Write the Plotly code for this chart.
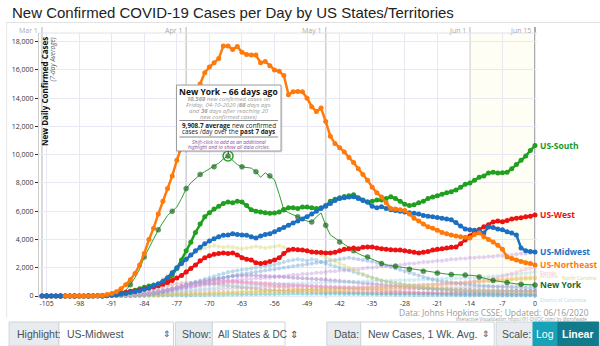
import plotly.graph_objects as go

W, H = 600, 346
L, R, T, B = 37, 63, 33, 48
PW, PH = W - L - R, H - T - B


def px(x):
    return (x - L) / PW


def py(y):
    return 1 - (y - T) / PH


# ---------------- data ----------------
days = list(range(-106, 1))

northeast = [None, None, None, None, None, 0, 0, 0, 1, 2,
             4, 8, 15, 40, 100, 180, 300, 520, 800, 1150,
             1600, 2200, 3000, 4000, 4800, 5800, 6700, 7600, 8500, 9600,
             10600, 11500, 12500, 14000, 15000, 15800, 16200, 16500, 16800, 17700,
             17700, 17450, 17650, 17250, 17100, 17050, 17050, 16500, 16600, 16300,
             16000, 15900, 15600, 14250, 14450, 14470, 14450, 14000, 13400, 13050,
             13300, 12350, 11300, 10800, 10500, 10200, 9800, 9450, 9000, 8600,
             8200, 7700, 7300, 7000, 6600, 6200, 6150, 6100, 6050, 5800,
             5500, 5300, 5100, 4900, 4800, 4650, 4500, 4400, 4320, 4250,
             4200, 4150, 4100, 4350, 4460, 4200, 4000, 3830, 3600, 3300,
             2760, 2650, 2550, 2450, 2350, 2300, 2200]

south = [0, 0, 0, 0, 0, 0, 0, 0, 0, 2,
         3, 6, 12, 25, 45, 80, 130, 200, 270, 340,
         400, 520, 620, 700, 780, 850, 950, 1150, 1450, 1950,
         2550, 3200, 3800, 4500, 5100, 5600, 5900, 6150, 6350, 6550,
         6650, 6600, 6700, 6650, 6400, 6100, 6000, 5950, 5900, 5850,
         5880, 5950, 6100, 6250, 6250, 6200, 6300, 6300, 6250, 6200,
         6250, 6400, 6700, 6850, 6950, 7050, 7100, 7160, 6950, 6800,
         6660, 6700, 6800, 6800, 6900, 7020, 6900, 6700, 6500, 6400,
         6450, 6600, 6700, 6900, 7000, 7100, 7200, 7300, 7370, 7500,
         7700, 7900, 8000, 8200, 8400, 8500, 8700, 8750, 8700, 8720,
         8750, 9000, 9300, 9600, 9900, 10300, 10650]

midwest = [0, 0, 0, 0, 0, 0, 0, 0, 0, 0,
           0, 1, 3, 8, 20, 45, 80, 130, 180, 240,
           300, 380, 470, 570, 700, 850, 1050, 1300, 1650, 2000,
           2300, 2600, 2900, 3200, 3450, 3700, 3900, 4050, 4200, 4300,
           4320, 4400, 4350, 4320, 4300, 4200, 4110, 4250, 4350, 4400,
           4540, 4700, 4850, 5000, 5170, 5300, 5450, 5600, 5800, 6000,
           6200, 6350, 6550, 6750, 6900, 6950, 7000, 7020, 6900, 6750,
           6660, 6350, 6240, 6310, 6200, 6100, 6050, 6000, 5950, 5900,
           5850, 5800, 5700, 5650, 5600, 5550, 5500, 5450, 5390, 5200,
           4950, 4750, 4680, 4650, 4600, 4460, 4890, 4850, 4750, 4680,
           4550, 4450, 4320, 3400, 3200, 3150, 3120]

west = [0, 0, 0, 0, 0, 0, 0, 0, 3, 6,
        10, 15, 25, 40, 60, 90, 130, 180, 250, 320,
        350, 420, 490, 560, 640, 730, 830, 950, 1100, 1280,
        1450, 1700, 1950, 2200, 2500, 2700, 2850, 2950, 3000, 3050,
        3000, 3050, 2900, 2700, 2600, 2550, 2350, 2300, 2350, 2450,
        2550, 2700, 3000, 3260, 3300, 3280, 3250, 3200, 3120, 3100,
        3080, 3050, 3050, 3100, 3200, 3300, 3350, 3400, 3350, 3450,
        3470, 3470, 3400, 3350, 3300, 3280, 3260, 3250, 3200, 3150,
        3100, 3050, 3100, 3150, 3250, 3300, 3350, 3400, 3450, 3470,
        3700, 3970, 4250, 4540, 4700, 4900, 5050, 5240, 5300, 5250,
        5350, 5450, 5500, 5530, 5600, 5650, 5740]

new_york = [0, 0, 0, 0, 0, 0, 0, 0, 0, 0,
            0, 1, 3, 8, 20, 50, 100, 200, 400, 800,
            1300, 1900, 2760, 3400, 4000, 4680, 5200, 5700, 6000, 6300,
            6900, 7600, 8000, 8300, 8600, 8800, 9000, 9150, 9400, 9700,
            9909, 9600, 9300, 9140, 9100, 9050, 8800, 8400, 8720, 8500,
            8220, 7200, 6100, 5900, 5750, 5600, 5400, 5300, 5240, 5600,
            5880, 5000, 4320, 4100, 3830, 3600, 3400, 3200, 3000, 2850,
            2760, 2600, 2450, 2300, 2200, 2150, 2100, 2000, 1950, 1900,
            1850, 1800, 1750, 1700, 1650, 1620, 1580, 1550, 1520, 1500,
            1490, 1480, 1490, 1450, 1350, 1250, 1150, 1100, 1050, 990,
            950, 900, 860, 830, 800, 790, 780]

# faint state series (days -91 .. 0)
new_jersey = [0, 10, 30, 60, 110, 180, 280, 400, 560, 750,
              950, 1200, 1450, 1750, 2050, 2350, 2650, 2900, 3100, 3250,
              3400, 3500, 3550, 3500, 3450, 3500, 3450, 3400, 3350, 3400,
              3450, 3500, 3450, 3400, 3450, 3500, 3550, 3450, 3350, 3300,
              3300, 3250, 3200, 3150, 3050, 2900, 2750, 2600, 2450, 2300,
              2150, 2000, 1850, 1700, 1550, 1400, 1300, 1200, 1100, 1000,
              950, 900, 850, 800, 750, 700, 650, 620, 590, 560,
              530, 500, 480, 460, 440, 420, 400, 390, 380, 370,
              360, 350, 340, 330, 320, 310, 300, 290, 280, 270, 260, 250]
massachusetts = [0, 5, 10, 20, 30, 50, 80, 110, 150, 200,
                 260, 330, 410, 500, 600, 700, 800, 900, 1000, 1100,
                 1200, 1300, 1400, 1500, 1600, 1700, 1750, 1800, 1850, 1900,
                 1950, 2000, 2050, 2100, 2150, 2200, 2300, 2400, 2500, 2550,
                 2600, 2550, 2500, 2600, 2550, 2400, 2300, 2200, 2100, 2000,
                 1900, 1800, 1700, 1600, 1500, 1400, 1300, 1200, 1100, 1000,
                 950, 900, 850, 800, 750, 700, 650, 600, 560, 520,
                 480, 450, 420, 390, 360, 340, 320, 300, 280, 260,
                 250, 240, 230, 220, 210, 200, 190, 180, 170, 160, 150, 140]
california = [10, 20, 40, 60, 90, 120, 160, 200, 250, 300,
              350, 400, 450, 500, 550, 600, 650, 700, 750, 800,
              850, 900, 950, 1000, 1050, 1100, 1100, 1150, 1150, 1200,
              1200, 1250, 1250, 1300, 1300, 1350, 1400, 1400, 1450, 1500,
              1500, 1550, 1550, 1600, 1650, 1650, 1700, 1750, 1750, 1800,
              1800, 1850, 1900, 1900, 1950, 2000, 2000, 2050, 2100, 2100,
              2150, 2200, 2200, 2250, 2300, 2300, 2350, 2400, 2400, 2450,
              2500, 2500, 2550, 2600, 2600, 2650, 2650, 2700, 2700, 2750,
              2750, 2800, 2800, 2850, 2850, 2900, 2900, 2950, 3000, 3000, 3050, 3100]
florida = [5, 10, 20, 30, 50, 70, 100, 140, 190, 250,
           320, 400, 480, 560, 640, 720, 800, 860, 920, 980,
           1020, 1050, 1080, 1100, 1100, 1080, 1050, 1020, 1000, 980,
           960, 940, 920, 900, 880, 860, 840, 820, 800, 780,
           760, 740, 720, 700, 700, 690, 680, 670, 660, 650,
           650, 640, 640, 650, 660, 670, 680, 690, 700, 710,
           720, 730, 740, 750, 760, 770, 780, 790, 800, 820,
           840, 860, 880, 900, 920, 950, 980, 1010, 1050, 1100,
           1150, 1200, 1250, 1300, 1400, 1500, 1600, 1700, 1800, 1900, 1950, 2000]
illinois = [0, 5, 10, 20, 35, 50, 70, 100, 130, 170,
            220, 280, 350, 420, 500, 580, 660, 740, 820, 900,
            980, 1060, 1140, 1220, 1300, 1380, 1450, 1500, 1550, 1600,
            1650, 1700, 1750, 1800, 1850, 1900, 1950, 2000, 2050, 2100,
            2150, 2200, 2250, 2300, 2350, 2400, 2450, 2500, 2550, 2600,
            2650, 2700, 2650, 2600, 2550, 2500, 2450, 2350, 2250, 2150,
            2050, 1950, 1850, 1750, 1650, 1550, 1450, 1350, 1250, 1150,
            1100, 1050, 1000, 950, 900, 870, 840, 810, 780, 750,
            720, 700, 680, 660, 640, 620, 600, 590, 580, 570, 560, 550]
pennsylvania = [0, 5, 10, 20, 40, 60, 90, 130, 180, 240,
                300, 370, 450, 530, 620, 710, 800, 880, 950, 1020,
                1080, 1140, 1200, 1250, 1300, 1350, 1400, 1420, 1440, 1450,
                1460, 1450, 1440, 1420, 1400, 1380, 1360, 1340, 1320, 1300,
                1280, 1260, 1240, 1220, 1200, 1180, 1150, 1120, 1090, 1060,
                1030, 1000, 970, 940, 910, 880, 850, 820, 790, 760,
                730, 700, 670, 640, 610, 580, 560, 540, 520, 500,
                490, 480, 470, 460, 450, 440, 430, 420, 410, 400,
                400, 395, 390, 385, 380, 375, 370, 365, 360, 355, 350, 345]
arizona = [0, 0, 2, 5, 8, 12, 18, 25, 35, 45,
           55, 65, 75, 85, 95, 105, 115, 125, 135, 145,
           150, 160, 170, 180, 190, 200, 210, 215, 220, 225,
           230, 235, 240, 245, 250, 255, 260, 265, 270, 280,
           290, 300, 310, 320, 330, 340, 350, 360, 370, 380,
           390, 400, 410, 420, 430, 440, 450, 460, 470, 480,
           490, 500, 520, 540, 560, 580, 600, 620, 650, 680,
           710, 740, 770, 800, 830, 860, 890, 920, 950, 990,
           1030, 1070, 1110, 1150, 1190, 1230, 1260, 1290, 1310, 1330, 1340, 1350]
north_carolina = [0, 2, 5, 8, 12, 18, 25, 35, 45, 60,
                  75, 90, 105, 120, 135, 150, 165, 180, 195, 210,
                  220, 230, 240, 250, 260, 270, 280, 290, 300, 310,
                  320, 330, 340, 350, 360, 370, 380, 390, 400, 410,
                  420, 430, 440, 450, 460, 470, 480, 490, 500, 510,
                  520, 530, 540, 550, 560, 570, 580, 590, 600, 620,
                  640, 660, 680, 700, 720, 740, 760, 780, 800, 820,
                  840, 860, 880, 900, 920, 940, 960, 980, 1000, 1020,
                  1040, 1060, 1080, 1100, 1120, 1140, 1160, 1180, 1200, 1220, 1240, 1260]
texas = [0, 2, 5, 10, 15, 25, 40, 60, 85, 115,
         150, 190, 230, 270, 310, 350, 390, 430, 470, 510,
         550, 580, 610, 640, 670, 700, 720, 740, 760, 780,
         790, 800, 810, 820, 830, 840, 850, 860, 870, 880,
         890, 900, 910, 920, 930, 940, 950, 960, 970, 980,
         990, 1000, 1010, 1020, 1030, 1040, 1050, 1060, 1070, 1080,
         1090, 1100, 1110, 1120, 1130, 1140, 1150, 1160, 1180, 1200,
         1210, 1220, 1230, 1240, 1250, 1260, 1270, 1280, 1290, 1300,
         1330, 1360, 1390, 1420, 1450, 1480, 1510, 1540, 1570, 1600, 1650, 1700]
georgia = [0, 2, 5, 10, 20, 30, 45, 60, 80, 100,
           130, 160, 190, 220, 250, 280, 310, 340, 370, 400,
           420, 440, 460, 480, 500, 520, 540, 560, 580, 600,
           610, 620, 630, 640, 650, 660, 670, 680, 690, 700,
           700, 700, 690, 680, 670, 660, 650, 640, 630, 620,
           610, 600, 590, 580, 570, 560, 550, 540, 530, 520,
           510, 500, 500, 500, 500, 500, 510, 520, 530, 540,
           550, 560, 570, 580, 590, 600, 610, 620, 630, 640,
           650, 660, 670, 680, 690, 700, 710, 720, 730, 740, 750, 760]
michigan = [0, 2, 5, 10, 20, 40, 70, 110, 160, 220,
            290, 370, 450, 530, 610, 690, 760, 830, 900, 960,
            1000, 1040, 1060, 1080, 1080, 1060, 1040, 1000, 960, 920,
            880, 840, 800, 760, 720, 680, 640, 600, 570, 540,
            510, 480, 460, 440, 420, 400, 380, 360, 340, 320,
            300, 290, 280, 270, 260, 250, 240, 230, 220, 210,
            205, 198, 202, 196, 190, 195, 188, 192, 185, 190,
            185, 180, 182, 178, 175, 180, 176, 172, 170, 168,
            165, 168, 170, 172, 175, 178, 180, 182, 185, 188, 190, 192]
louisiana = [0, 5, 15, 30, 60, 100, 160, 230, 320, 420,
             520, 620, 720, 800, 860, 900, 920, 940, 940, 930,
             910, 880, 850, 810, 770, 730, 690, 650, 610, 570,
             540, 510, 480, 450, 420, 400, 380, 360, 340, 330,
             320, 310, 300, 290, 280, 270, 260, 250, 245, 240,
             235, 230, 228, 225, 222, 220, 218, 216, 214, 212,
             210, 212, 214, 216, 218, 220, 225, 230, 235, 240,
             245, 250, 255, 260, 265, 270, 275, 280, 285, 290,
             295, 300, 305, 310, 315, 320, 325, 330, 335, 340, 345, 350]
connecticut = [0, 2, 5, 10, 20, 35, 55, 80, 110, 150,
               200, 260, 320, 380, 440, 500, 560, 620, 680, 740,
               790, 830, 870, 900, 920, 940, 950, 960, 960, 950,
               940, 920, 900, 880, 860, 840, 820, 800, 780, 760,
               740, 720, 700, 680, 660, 640, 620, 600, 580, 560,
               540, 520, 500, 480, 460, 440, 420, 400, 380, 360,
               340, 320, 300, 280, 260, 240, 220, 200, 190, 180,
               170, 160, 150, 140, 130, 125, 120, 115, 110, 105,
               100, 98, 96, 94, 92, 90, 88, 86, 84, 82, 80, 78]
dist_columbia = [0, 0, 1, 2, 3, 5, 8, 12, 16, 20,
                 25, 30, 35, 40, 45, 50, 55, 60, 65, 70,
                 75, 80, 85, 90, 95, 100, 105, 110, 115, 120,
                 125, 130, 135, 140, 145, 150, 155, 160, 165, 170,
                 170, 168, 166, 164, 162, 160, 158, 156, 154, 152,
                 150, 145, 140, 135, 130, 125, 120, 115, 110, 105,
                 100, 95, 90, 85, 80, 78, 76, 74, 72, 70,
                 68, 66, 64, 62, 60, 58, 56, 54, 52, 50,
                 48, 46, 44, 42, 40, 40, 39, 38, 37, 36, 35, 34]

x_ticks = list(range(-105, 1, 7))
x_tick_labels = [str(v) for v in x_ticks]
y_ticks = list(range(0, 18001, 2000))
y_tick_labels = [f"{v:,}" for v in y_ticks]
month_days = [-106, -75, -45, -14, 0]
month_labels = ["Mar 1", "Apr 1", "May 1", "Jun 1", "Jun 15"]

# ---------------- figure ----------------
FONT = "Open Sans"
fig = go.Figure()

faint_series = [
    ("Georgia", georgia, "#c5b0d5"),
    ("Michigan", michigan, "#ff9896"),
    ("Louisiana", louisiana, "#c49c94"),
    ("Connecticut", connecticut, "#e377c2"),
    ("Pennsylvania", pennsylvania, "#9467bd"),
    ("Texas", texas, "#9edae5"),
    ("District of Columbia", dist_columbia, "#17becf"),
    ("North Carolina", north_carolina, "#bcbd22"),
    ("Arizona", arizona, "#ffbb78"),
    ("Illinois", illinois, "#6f9fd8"),
    ("Massachusetts", massachusetts, "#6baed6"),
    ("Florida", florida, "#f7a6cf"),
    ("California", california, "#c39ae0"),
    ("New Jersey", new_jersey, "#d6d66a"),
]

for name, vals, col in faint_series:
    xs = days[-len(vals):]
    fig.add_trace(go.Scatter(
        x=xs, y=vals, mode="lines+markers", name=name, opacity=0.45,
        line=dict(color=col, width=1), marker=dict(color=col, size=4),
        hoverinfo="skip", showlegend=False, cliponaxis=False))

ny_idx = days.index(-66)
ny_sizes = [5 if (i - ny_idx) % 3 == 0 else 0 for i in range(len(days))]
fig.add_trace(go.Scatter(
    x=days, y=new_york, mode="lines+markers", name="New York",
    line=dict(color="#2ca02c", width=1),
    marker=dict(color="#1f6e1f", size=ny_sizes, line=dict(color="#155015", width=0.5)),
    hoverinfo="skip", showlegend=False, cliponaxis=False))

main_series = [
    ("US-South", south, "#1fa01f"),
    ("US-West", west, "#ee1111"),
    ("US-Midwest", midwest, "#1c6fc2"),
    ("US-Northeast", northeast, "#ff7a0a"),
]
for name, vals, col in main_series:
    fig.add_trace(go.Scatter(
        x=days, y=vals, mode="lines+markers", name=name,
        line=dict(color=col, width=2.5), marker=dict(color=col, size=5),
        hoverinfo="skip", showlegend=False, cliponaxis=False))

# highlighted point ring
fig.add_trace(go.Scatter(
    x=[days[ny_idx]], y=[new_york[ny_idx]], mode="markers",
    marker=dict(color="rgba(0,0,0,0)", size=10, line=dict(color="#2ca02c", width=1.5)),
    hoverinfo="skip", showlegend=False))

shapes = []
ann = []

# Jun 1 - Jun 15 shading
shapes.append(dict(type="rect", xref="x", yref="paper", x0=-14, x1=0, y0=0, y1=1,
                   fillcolor="#fefef5", line=dict(width=0), layer="below"))
# month lines and labels
for d, lab in zip(month_days, month_labels):
    last = d == 0
    shapes.append(dict(type="line", xref="x", yref="paper", x0=d, x1=d, y0=0, y1=py(27),
                       line=dict(color="#aaaaaa" if last else "#cfcfcf", width=2 if last else 1.5),
                       layer="below"))
    ann.append(dict(x=d, y=py(30.5), xref="x", yref="paper", text=lab, showarrow=False,
                    xanchor="right", yanchor="middle", xshift=-2,
                    font=dict(family=FONT, size=7, color="#aaaaaa")))

# frame lines
shapes.append(dict(type="line", xref="paper", yref="paper", x0=px(4), x1=px(600), y0=py(22.5), y1=py(22.5),
                   line=dict(color="#e2e2e2", width=1)))
shapes.append(dict(type="line", xref="paper", yref="paper", x0=px(4.5), x1=px(4.5), y0=py(22.5), y1=py(318),
                   line=dict(color="#e6e6e6", width=1)))
shapes.append(dict(type="line", xref="paper", yref="paper", x0=0, x1=1, y0=1, y1=1,
                   line=dict(color="#e0e0ea", width=1), layer="below"))

# title
ann.append(dict(x=px(8), y=py(12), xref="paper", yref="paper", showarrow=False,
                xanchor="left", yanchor="middle",
                text="New Confirmed COVID-19 Cases per Day by US States/Territories",
                font=dict(family="Liberation Sans", size=15, color="#222222")))

# y-axis title inside plot
ann.append(dict(x=px(42.5), y=py(35), xref="paper", yref="paper", showarrow=False,
                xanchor="center", yanchor="top", textangle=-90,
                text="<b>New Daily Confirmed Cases</b>",
                font=dict(family=FONT, size=8, color="#111111")))
ann.append(dict(x=px(50.5), y=py(35), xref="paper", yref="paper", showarrow=False,
                xanchor="center", yanchor="top", textangle=-90,
                text="<i>(7-day Average)</i>",
                font=dict(family=FONT, size=6.5, color="#555555")))

# series end labels (main)
end_labels = [
    ("US-South", south[-1], "#1a9a1a"),
    ("US-West", west[-1], "#ee1111"),
    ("US-Midwest", midwest[-1], "#1c6fc2"),
    ("US-Northeast", northeast[-1], "#ff7a0a"),
    ("New York", new_york[-1], "#1d6b1d"),
]
for text, yv, col in end_labels:
    ann.append(dict(x=0, y=yv, xref="x", yref="y", showarrow=False, xanchor="left",
                    yanchor="middle", xshift=3,
                    text=f"<b>{text}</b>",
                    font=dict(family=FONT, size=8.5, color=col)))

# faint end labels (pixel offsets keep them from stacking)
faint_labels = [
    ("Florida", florida[-1], "#f4a0c8", 0, -5),
    ("Arizona", arizona[-1], "#e8c080", 0, 1),
    ("North Carolina", north_carolina[-1], "#c8c860", 22, 0),
    ("District of Columbia", dist_columbia[-1], "#7fd0dc", 0, -4),
]
for text, yv, col, dx, dy in faint_labels:
    ann.append(dict(x=0, y=yv, xref="x", yref="y", showarrow=False, xanchor="left",
                    yanchor="middle", xshift=3 + dx, yshift=dy, opacity=0.7,
                    text=text, font=dict(family=FONT, size=5, color=col)))

# tooltip box
bx0, bx1, by0, by1 = 175, 280, 85, 151
shapes.append(dict(type="rect", xref="paper", yref="paper", x0=px(bx0 + 1.5), x1=px(bx1 + 1.5),
                   y0=py(by1 + 1.5), y1=py(by0 + 1.5), fillcolor="rgba(0,0,0,0.12)",
                   line=dict(width=0)))
shapes.append(dict(type="rect", xref="paper", yref="paper", x0=px(bx0), x1=px(bx1),
                   y0=py(by1), y1=py(by0), fillcolor="white",
                   line=dict(color="#9a9a9a", width=1)))
for yy in (120.5, 137):
    shapes.append(dict(type="line", xref="paper", yref="paper", x0=px(bx0 + 3), x1=px(bx1 - 3),
                       y0=py(yy), y1=py(yy), line=dict(color="#888888", width=1)))
shapes.append(dict(type="line", xref="paper", yref="paper", x0=px(227), x1=px(227),
                   y0=py(by1), y1=py(154), line=dict(color="#333333", width=1)))
tcx = px((bx0 + bx1) / 2)
tip_lines = [
    (92, "<b>New York – 66 days ago</b>", 8.5, "#111111"),
    (99, "<i><b>10,569</b> new confirmed cases on</i>", 6, "#a0a0a0"),
    (105, "<i>Friday, 04-10-2020 (<b>66</b> days ago</i>", 6, "#a0a0a0"),
    (111, "<i>and <b>36</b> days after reaching 20</i>", 6, "#a0a0a0"),
    (116.5, "<i>new confirmed cases)</i>", 6, "#a0a0a0"),
    (125.5, "<b>9,908.7 average</b> new confirmed", 6.3, "#222222"),
    (132, "cases /day over the <b>past 7 days</b>", 6.3, "#222222"),
    (141.5, "<i>Shift-click to add as an additional</i>", 5, "#8a4a9a"),
    (147, "<i>highlight and to show all data circles.</i>", 5, "#8a4a9a"),
]
for yy, txt, size, col in tip_lines:
    ann.append(dict(x=tcx, y=py(yy), xref="paper", yref="paper", showarrow=False,
                    xanchor="center", yanchor="middle", text=txt,
                    font=dict(family=FONT, size=size, color=col)))

# credits
ann.append(dict(x=px(591), y=py(312), xref="paper", yref="paper", showarrow=False,
                xanchor="right", yanchor="middle",
                text="Data: Johns Hopkins CSSE; Updated: 06/16/2020",
                font=dict(family=FONT, size=8.5, color="#999999")))
ann.append(dict(x=px(591), y=py(318.5), xref="paper", yref="paper", showarrow=False,
                xanchor="right", yanchor="middle",
                text="Interactive Visualization: https://91-DIVOC.com/ by @profwade_",
                font=dict(family=FONT, size=4.5, color="#999999")))

# control bar
cy0, cy1 = 322, 346
CF = "Liberation Sans"


def box(x0, x1, fill, border="#ced4da"):
    shapes.append(dict(type="rect", xref="paper", yref="paper", x0=px(x0), x1=px(x1),
                       y0=py(cy1), y1=py(cy0), fillcolor=fill, line=dict(color=border, width=1)))


def label(x, txt, col="#495057", anchor="left", size=10.5):
    ann.append(dict(x=px(x), y=py((cy0 + cy1) / 2), xref="paper", yref="paper", showarrow=False,
                    xanchor=anchor, yanchor="middle", text=txt,
                    font=dict(family=CF, size=size, color=col)))


box(7, 57, "#e9ecef")
box(57, 172, "#ffffff")
label(13, "Highlight:")
label(63, "US-Midwest")
label(166, "⇕", anchor="center", size=9)
box(174, 211, "#e9ecef")
label(179, "Show:")
box(211, 284, "#ffffff")
label(215, "All States &amp; DC ⇕", size=10)
box(326, 360, "#e9ecef")
label(331, "Data:")
box(360, 494, "#ffffff")
label(365, "New Cases, 1 Wk. Avg.")
label(486, "⇕", anchor="center", size=9)
box(496, 533, "#e9ecef")
label(500, "Scale:")
box(533, 558, "#17a2b8", "#17a2b8")
label(545.5, "Log", col="#ffffff", anchor="center")
box(558, 599, "#117a8b", "#117a8b")
label(578.5, "<b>Linear</b>", col="#ffffff", anchor="center")

fig.update_layout(
    width=W, height=H,
    margin=dict(l=L, r=R, t=T, b=B, pad=0),
    paper_bgcolor="white", plot_bgcolor="white",
    showlegend=False, hovermode=False,
    shapes=shapes, annotations=ann,
    xaxis=dict(range=[-106.64, 0.43], tickvals=x_ticks, ticktext=x_tick_labels,
               showgrid=True, gridcolor="#e8e8f2", gridwidth=1, zeroline=False,
               showline=False, ticks="", tickfont=dict(family=FONT, size=7, color="#333333"),
               fixedrange=True),
    yaxis=dict(range=[-141.5, 18613], tickvals=y_ticks, ticktext=y_tick_labels,
               showgrid=True, gridcolor="#e8e8f2", gridwidth=1, zeroline=False,
               showline=True, linecolor="#cccccc", ticks="outside", ticklen=3,
               tickcolor="#333333", tickfont=dict(family=FONT, size=7, color="#333333"),
               fixedrange=True),
)

fig.write_html("out.html")
